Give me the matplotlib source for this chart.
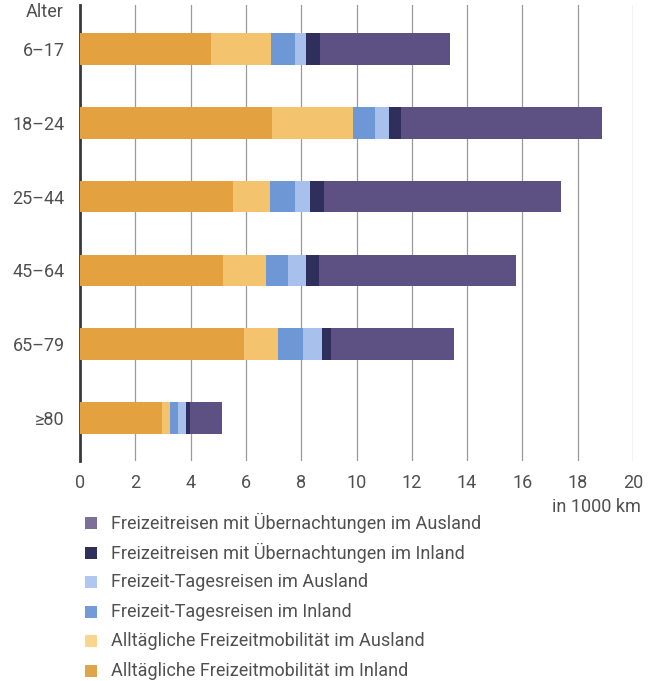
import matplotlib.pyplot as plt
from matplotlib.patches import Rectangle

plt.rcParams['font.family'] = ['Roboto', 'DejaVu Sans']

# age groups (top to bottom) and segment widths in 1000 km
ages = ['6–17', '18–24', '25–44', '45–64', '65–79', '≥80']
alltag_inland = [4.74, 6.96, 5.52, 5.16, 5.92, 2.97]
alltag_ausland = [2.18, 2.92, 1.34, 1.56, 1.24, 0.27]
tages_inland = [0.84, 0.80, 0.92, 0.80, 0.89, 0.30]
tages_ausland = [0.40, 0.50, 0.54, 0.67, 0.71, 0.30]
reisen_inland = [0.52, 0.44, 0.51, 0.47, 0.31, 0.15]
reisen_ausland = [4.71, 7.27, 8.56, 7.11, 4.45, 1.16]

series = [
    ('Alltägliche Freizeitmobilität im Inland', alltag_inland, '#E3A13F'),
    ('Alltägliche Freizeitmobilität im Ausland', alltag_ausland, '#F4C36E'),
    ('Freizeit-Tagesreisen im Inland', tages_inland, '#6E97D6'),
    ('Freizeit-Tagesreisen im Ausland', tages_ausland, '#A8C0EC'),
    ('Freizeitreisen mit Übernachtungen im Inland', reisen_inland, '#2F2F5E'),
    ('Freizeitreisen mit Übernachtungen im Ausland', reisen_ausland, '#5D5183'),
]
legend_colors = ['#E0A54B', '#F9D58E', '#729BD8', '#B0C8F0', '#2E2F5C', '#7C7099']
txt = '#505050'

W, H = 659, 681
fig = plt.figure(figsize=(6.59, 6.81), dpi=100)
ax = fig.add_axes([80 / W, 220 / H, 553 / W, 456 / H])

y = list(range(len(ages)))
left = [0.0] * len(ages)
for name, vals, col in series:
    ax.barh(y, vals, left=left, height=0.43, color=col, edgecolor='none', zorder=3)
    left = [a + b for a, b in zip(left, vals)]

ax.set_xlim(0, 20)
ax.set_ylim(5.583, -0.596)
ax.set_xticks(range(0, 21, 2))
ax.grid(axis='x', color='#9a9a9a', linewidth=0.9, zorder=0)
ax.tick_params(axis='x', length=0, pad=9, labelsize=13, labelcolor=txt)
ax.set_yticks(y)
ax.set_yticklabels(ages)
ax.tick_params(axis='y', length=0, pad=11, labelsize=13, labelcolor=txt)
for s in ['top', 'right', 'bottom']:
    ax.spines[s].set_visible(False)
ax.spines['left'].set_color('#3a3a3a')
ax.spines['left'].set_linewidth(2)

fig.text(64 / W, 1 - 12 / H, 'Alter', ha='right', va='center', fontsize=13, color=txt)
fig.text(641 / W, 1 - 507 / H, 'in 1000 km', ha='right', va='center', fontsize=13, color=txt)

# legend, drawn top to bottom in reverse stacking order
for i, ((name, vals, col), lc) in enumerate(zip(series[::-1], legend_colors[::-1])):
    yc = 523 + 29.6 * i
    fig.patches.append(Rectangle((85 / W, 1 - (yc + 6) / H), 12 / W, 12 / H,
                                 facecolor=lc, edgecolor='none', transform=fig.transFigure))
    fig.text(111 / W, 1 - yc / H, name, ha='left', va='center', fontsize=13, color=txt)

fig.savefig('out.png', dpi=100)
